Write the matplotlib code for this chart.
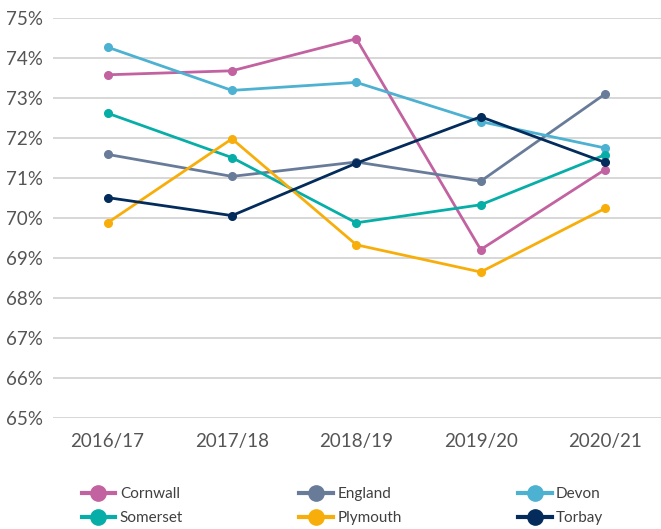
import matplotlib.pyplot as plt
from matplotlib.ticker import FuncFormatter

# ==========================
# Data
# ==========================
years = ["2016/17", "2017/18", "2018/19", "2019/20", "2020/21"]

cornwall = [73.58, 73.68, 74.48, 69.21, 71.21]
england = [71.59, 71.04, 71.40, 70.92, 73.10]
devon = [74.27, 73.19, 73.39, 72.41, 71.75]
somerset = [72.62, 71.51, 69.88, 70.33, 71.58]
plymouth = [69.88, 71.98, 69.33, 68.65, 70.24]
torbay = [70.51, 70.06, 71.37, 72.53, 71.39]

series = [
    ("Cornwall", cornwall, "#C262A0"),
    ("England", england, "#687C9A"),
    ("Devon", devon, "#4DB1D1"),
    ("Somerset", somerset, "#06AEA7"),
    ("Plymouth", plymouth, "#F8AE0A"),
    ("Torbay", torbay, "#032B5B"),
]

plt.rcParams['font.family'] = ['Lato', 'DejaVu Sans']

fig = plt.figure(figsize=(6.61, 5.29), dpi=100)
ax = fig.add_axes([0.080, 0.2098, 0.92, 0.7562])

x = list(range(len(years)))
handles = {}
for name, vals, col in series:
    h, = ax.plot(x, vals, color=col, lw=2.0, marker='o', markersize=5.5,
                 solid_capstyle='round', label=name)
    handles[name] = h

ax.set_ylim(65, 75)
ax.set_xlim(-0.44, 4.45)
ax.set_yticks(range(65, 76))
ax.yaxis.set_major_formatter(FuncFormatter(lambda v, p: f"{v:.0f}%"))
ax.set_xticks(x)
ax.set_xticklabels(years)
ax.grid(axis='y', color='#D4D4D4', lw=1.3)
ax.set_axisbelow(True)
for s in ax.spines.values():
    s.set_visible(False)
ax.tick_params(length=0, labelsize=13.5, colors='#555555', pad=11)
ax.tick_params(axis='y', pad=7)

# legend: row-major order across 3 columns
order = ["Cornwall", "Somerset", "England", "Plymouth", "Devon", "Torbay"]
leg_handles = []
for n in order:
    h = handles[n]
    lh = plt.Line2D([], [], color=h.get_color(), lw=3, marker='o', markersize=11)
    leg_handles.append(lh)
fig.legend(leg_handles, order, ncol=3, loc='upper left',
           bbox_to_anchor=(0.112, 0.093), frameon=False, fontsize=11,
           handlelength=2.2, handletextpad=0.3, columnspacing=7.6,
           labelspacing=0.65, labelcolor='#404040', borderpad=0)

fig.savefig("out.png", dpi=100)
